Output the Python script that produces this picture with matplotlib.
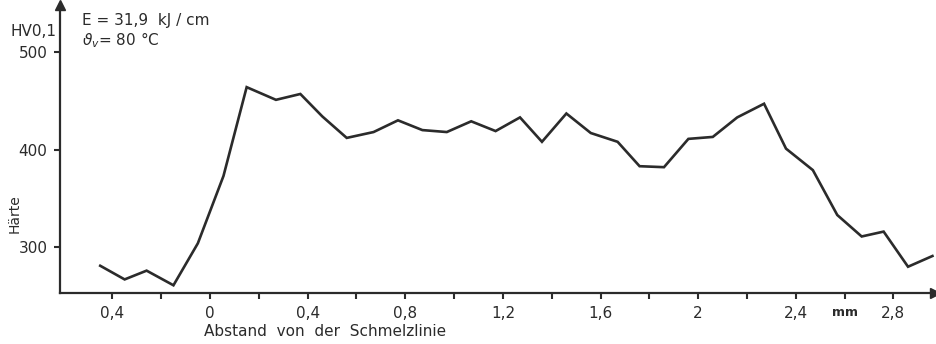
import matplotlib
matplotlib.use("Agg")
import matplotlib.pyplot as plt

# Abstand von der Schmelzlinie (mm) und Haerte HV0,1
distance_mm = [-0.45, -0.35, -0.26, -0.15, -0.05, 0.055, 0.15, 0.27, 0.37, 0.46,
               0.56, 0.67, 0.77, 0.87, 0.97, 1.07, 1.17, 1.27, 1.36, 1.46,
               1.56, 1.67, 1.76, 1.86, 1.96, 2.06, 2.16, 2.27, 2.36, 2.47,
               2.57, 2.67, 2.76, 2.86, 2.96]
hardness = [281, 267, 276, 261, 304, 373, 464, 451, 457, 434,
            412, 418, 430, 420, 418, 429, 419, 433, 408, 437,
            417, 408, 383, 382, 411, 413, 433, 447, 401, 379,
            333, 311, 316, 280, 291]

x_ticks = [-0.4, -0.2, 0, 0.2, 0.4, 0.6, 0.8, 1.0, 1.2, 1.4, 1.6, 1.8, 2.0, 2.2, 2.4, 2.6, 2.8]
x_labels = ["0,4", "", "0", "", "0,4", "", "0,8", "", "1,2", "", "1,6", "", "2", "", "2,4", "mm", "2,8"]
y_ticks = [300, 400, 500]

ink = "#2b2b2b"

fig = plt.figure(figsize=(9.37, 3.44), dpi=100)
ax = fig.add_axes([0.064, 0.148, 0.934, 0.837])

ax.plot(distance_mm, hardness, color=ink, lw=1.9, solid_joinstyle="miter")

ax.set_xlim(-0.615, 2.971)
ax.set_ylim(253, 548)

for s in ["top", "right"]:
    ax.spines[s].set_visible(False)
for s in ["left", "bottom"]:
    ax.spines[s].set_color(ink)
    ax.spines[s].set_linewidth(1.6)

# arrow heads at the ends of the axes
ax.plot(1, 0, ">", color=ink, ms=7, transform=ax.transAxes, clip_on=False)
ax.plot(0, 1, "^", color=ink, ms=7, transform=ax.transAxes, clip_on=False)

ax.set_xticks(x_ticks)
ax.set_xticklabels(x_labels, fontsize=11)
ax.set_yticks(y_ticks)
ax.set_yticklabels([str(v) for v in y_ticks], fontsize=11)
ax.tick_params(direction="out", length=4, width=1.5, color=ink, labelcolor=ink, pad=5)
for lab in ax.get_xticklabels():
    if lab.get_text() == "mm":
        lab.set_fontweight("bold")
        lab.set_fontsize(9)

fig.text(0.218, 0.037, "Abstand  von  der  Schmelzlinie", fontsize=11, color=ink,
         ha="left", va="center")
fig.text(0.011, 0.907, "HV0,1", fontsize=11, color=ink, ha="left", va="center")
fig.text(0.016, 0.38, "Härte", fontsize=10, color=ink, rotation=90, ha="center", va="center")
fig.text(0.088, 0.94, "E = 31,9  kJ / cm", fontsize=11, color=ink, ha="left", va="center")
fig.text(0.088, 0.882, r"$\vartheta_v$= 80 °C", fontsize=11, color=ink, ha="left", va="center")

fig.savefig("out.png", dpi=100, facecolor="white")
